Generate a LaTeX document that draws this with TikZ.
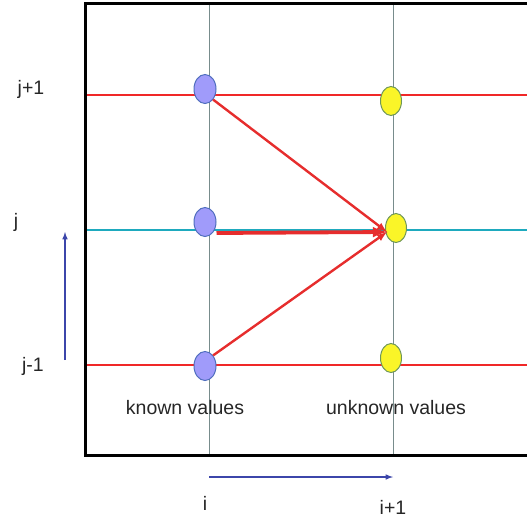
\documentclass[tikz,border=0pt]{standalone}
\usepackage{fontspec}
\setmainfont{Liberation Sans}
\usetikzlibrary{shapes.geometric}
\definecolor{knownfill}{RGB}{160,155,250}
\definecolor{knownline}{RGB}{80,110,190}
\definecolor{unknownfill}{RGB}{250,245,40}
\definecolor{unknownline}{RGB}{110,150,90}
\definecolor{gridred}{RGB}{240,40,40}
\definecolor{gridcyan}{RGB}{30,170,190}
\definecolor{gridgray}{RGB}{120,140,140}
\definecolor{axisblue}{RGB}{60,70,170}
\definecolor{arrowred}{RGB}{230,45,45}
\tikzset{
known/.style={ellipse,draw=knownline,fill=knownfill,line width=1pt,minimum width=22pt,minimum height=29pt,inner sep=0pt},
unknown/.style={ellipse,draw=unknownline,fill=unknownfill,line width=1pt,minimum width=21pt,minimum height=29pt,inner sep=0pt},
lab/.style={font=\fontsize{19.5}{22}\selectfont,text=black!85}
}
\begin{document}
\begin{tikzpicture}[x=1pt,y=-1pt]
\useasboundingbox (0,0) rectangle (527,520);

% grid lines
\draw[gridgray,line width=0.8pt] (209,3) -- (209,455);
\draw[gridgray,line width=0.8pt] (393,3) -- (393,455);
\foreach \y in {95,365}
{
\draw[gridred,line width=1.3pt] (85,\y) -- (527,\y);
}
\draw[gridcyan,line width=1.2pt] (85,230) -- (527,230);

% frame
\draw[line width=3pt] (527,3) -- (85,3) -- (85,455) -- (527,455);

% points
\node[known] (k1) at (205,89) {};
\node[known] (k0) at (205,222) {};
\node[known] (km) at (205,366) {};
\node[unknown] (u1) at (391,101) {};
\node[unknown] (u0) at (396,228) {};
\node[unknown] (um) at (391,358) {};

% stencil
\coordinate (tip) at (387,232);
\draw[arrowred,line width=2.4pt,-latex] (k1.south east) -- (tip);
\draw[arrowred,line width=3.8pt,-latex] (k0.east |- 0,233) -- (tip);
\draw[arrowred,line width=2.4pt,-latex] (km.north east) -- (tip);

% labels
\node[lab] (jp) at (31,89) {j+1};
\node[lab] (j) at (16,222) {j};
\node[lab] (jm) at (33,366) {j-1};
\node[lab] (kv) at (185,408) {known values};
\node[lab] (uv) at (396,408) {unknown values};
\node[lab] (i) at (205,503) {i};
\node[lab] (ip) at (393,507) {i+1};

% directions
\coordinate (ja) at (65,360);
\coordinate (jb) at (65,232);
\draw[axisblue,line width=1.5pt,-latex] (ja) -- (jb);
\coordinate (ia) at (209,477);
\coordinate (ib) at (393,477);
\draw[axisblue,line width=1.5pt,-latex] (ia) -- (ib);

\end{tikzpicture}
\end{document}
